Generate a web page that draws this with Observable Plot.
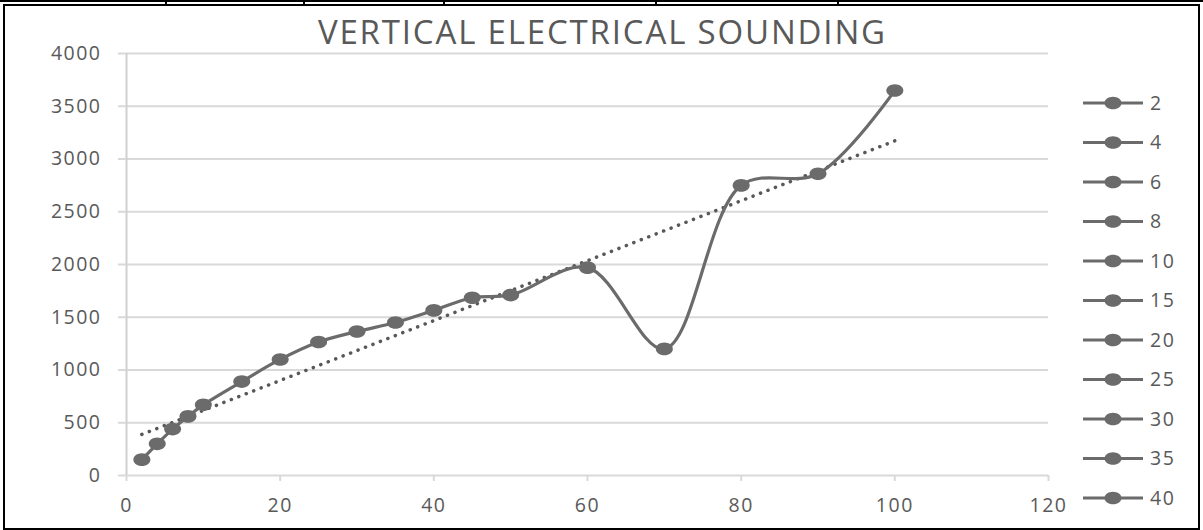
<!DOCTYPE html>
<html>
<head>
<meta charset="utf-8">
<script src="https://cdn.jsdelivr.net/npm/d3@7"></script>
<script src="https://cdn.jsdelivr.net/npm/@observablehq/plot@0.6"></script>
<style>
  html, body { margin: 0; padding: 0; background: #fff; }
  #page { position: relative; width: 1203px; height: 530px; overflow: hidden; font-family: "Open Sans", sans-serif; }
  #chart { position: absolute; left: 0; top: 0; }
  #title { position: absolute; left: 0; top: 9px; width: 1203px; text-align: center; font-size: 33px; color: #595959; line-height: normal; white-space: nowrap; }
  #legend { position: absolute; left: 1075px; top: 80px; }
  .hline { position: absolute; background: #000; }
  #frame { position: absolute; left: 3px; top: 4px; width: 1193px; height: 522px; border: 2px solid #000; }
</style>
</head>
<body>
<div id="page">
  <div class="hline" style="left:0;top:0;width:1203px;height:2px"></div>
  <div id="tablecols"></div>
  <div id="frame"></div>
  <div id="chart"></div>
  <div id="title"></div>
  <div id="legend"></div>
</div>
<script>
// ---- data ----
const spacing = [2, 4, 6, 8, 10, 15, 20, 25, 30, 35, 40, 45, 50, 60, 70, 80, 90, 100];
const resistivity = [150, 300, 440, 560, 670, 890, 1100, 1265, 1365, 1450, 1565, 1685, 1710, 1970, 1200, 2750, 2860, 3650];
const legendLabels = ["2", "4", "6", "8", "10", "15", "20", "25", "30", "35", "40"];
const xTicks = [0, 20, 40, 60, 80, 100, 120];
const yTicks = [0, 500, 1000, 1500, 2000, 2500, 3000, 3500, 4000];
const titleText = "VERTICAL ELECTRICAL SOUNDING";
const tableColumnEdges = [165, 303, 443, 655, 837];

const data = spacing.map((x, i) => ({x, y: resistivity[i]}));

const textColor = "#595959";
const gridColor = "#d9d9d9";
const seriesColor = "#6b6b6b";

// ellipse marker like Excel's stretched circle
function ellipseSymbol(rx, ry) {
  return {
    draw(ctx) {
      const k = 0.5523;
      ctx.moveTo(rx, 0);
      ctx.bezierCurveTo(rx, ry * k, rx * k, ry, 0, ry);
      ctx.bezierCurveTo(-rx * k, ry, -rx, ry * k, -rx, 0);
      ctx.bezierCurveTo(-rx, -ry * k, -rx * k, -ry, 0, -ry);
      ctx.bezierCurveTo(rx * k, -ry, rx, -ry * k, rx, 0);
      ctx.closePath();
    }
  };
}
const marker = ellipseSymbol(8.5, 6.3);

// top table column ticks
const cols = document.getElementById("tablecols");
tableColumnEdges.forEach(x => {
  const d = document.createElement("div");
  d.className = "hline";
  d.style.cssText = `left:${x}px;top:0;width:2px;height:5px`;
  cols.appendChild(d);
});

const chart = Plot.plot({
  width: 1203,
  height: 530,
  marginLeft: 126,
  marginRight: 155,
  marginTop: 53,
  marginBottom: 55,
  style: {background: "transparent", fontFamily: "'Open Sans', sans-serif", fontSize: "19.5px", color: textColor, letterSpacing: "1.5px", overflow: "visible"},
  x: {domain: [0, 120]},
  y: {domain: [0, 4000]},
  marks: [
    Plot.gridY(yTicks, {stroke: gridColor, strokeOpacity: 1, strokeWidth: 2}),
    Plot.ruleX([0], {stroke: "#d0d0d0", strokeWidth: 2}),
    Plot.axisY(yTicks, {tickSize: 8, tickPadding: 17, stroke: gridColor, strokeWidth: 2, fill: textColor, label: null, tickFormat: d => String(d)}),
    Plot.axisX(xTicks, {tickSize: 6, tickPadding: 17, stroke: gridColor, strokeWidth: 2, fill: textColor, label: null, tickFormat: d => String(d)}),
    Plot.linearRegressionY(data, {x: "x", y: "y", ci: 0, stroke: "#585858", strokeWidth: 3.5, strokeDasharray: "0.1,7.9", strokeLinecap: "round"}),
    Plot.line(data, {x: "x", y: "y", curve: "catmull-rom", stroke: seriesColor, strokeWidth: 3.2}),
    Plot.dot(data, {x: "x", y: "y", symbol: marker, fill: seriesColor, stroke: "none"})
  ]
});
document.getElementById("chart").appendChild(chart);

// title, fitted to the reference width
const titleEl = document.getElementById("title");
const span = document.createElement("span");
span.textContent = titleText;
titleEl.appendChild(span);
const targetW = 569;
const w0 = span.getBoundingClientRect().width;
const ls = (targetW - w0) / titleText.length;
span.style.letterSpacing = ls + "px";
titleEl.style.left = (ls / 2) + "px";

// legend
const rowGap = 39.5;
const lsvg = d3.select("#legend").append("svg")
  .attr("width", 128).attr("height", 450)
  .style("font-family", "'Open Sans', sans-serif")
  .style("font-size", "19.5px")
  .style("letter-spacing", "1.5px");
legendLabels.forEach((lab, i) => {
  const cy = 23 + i * rowGap;
  const g = lsvg.append("g").attr("transform", `translate(0,${cy})`);
  g.append("line").attr("x1", 8).attr("x2", 68).attr("y1", 0).attr("y2", 0)
    .attr("stroke", seriesColor).attr("stroke-width", 3);
  g.append("path").attr("transform", "translate(38,0)")
    .attr("d", (() => { const p = d3.path(); marker.draw(p); return p.toString(); })())
    .attr("fill", seriesColor);
  g.append("text").attr("x", 75).attr("dy", "0.35em").attr("fill", textColor).text(lab);
});
</script>
</body>
</html>
